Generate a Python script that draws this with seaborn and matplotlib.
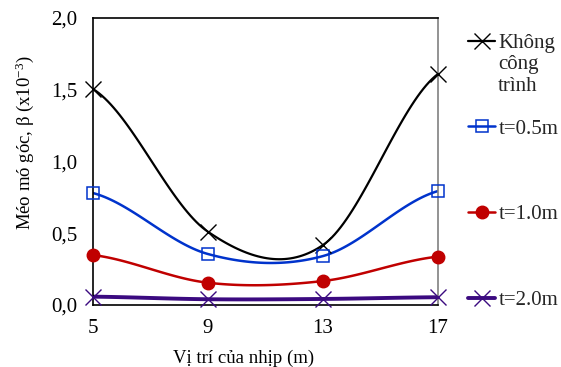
import numpy as np
import pandas as pd
import matplotlib
matplotlib.use("Agg")
import matplotlib.pyplot as plt
import seaborn as sns
from matplotlib.lines import Line2D
from matplotlib.ticker import FuncFormatter

# vị trí nhịp (m) và độ méo góc (x10^-3)
vi_tri = [5, 9, 13, 17]
khong_ct = [1.505, 0.51, 0.418, 1.61]
t_05 = [0.78, 0.355, 0.341, 0.794]
t_10 = [0.348, 0.155, 0.167, 0.337]
t_20 = [0.058, 0.040, 0.042, 0.054]

nhan = ["Không", "t=0.5m", "t=1.0m", "t=2.0m"]
mau = ["#000000", "#0033CC", "#C00000", "#3B0A80"]
marker = ["x", "s", "o", "x"]

sns.set_theme(style="white")
plt.rcParams["font.family"] = ["Liberation Serif", "DejaVu Serif"]
plt.rcParams["mathtext.fontset"] = "custom"
plt.rcParams["mathtext.rm"] = "Liberation Serif"
plt.rcParams["mathtext.it"] = "Liberation Serif:italic"


def duong_cong(x, y, n=40):
    # làm trơn kiểu Excel (Catmull-Rom), chỉ để vẽ đường
    x = np.asarray(x, float)
    y = np.asarray(y, float)
    yp = np.concatenate([[y[0]], y, [y[-1]]])
    xs, ys = [], []
    for i in range(len(x) - 1):
        m0 = (yp[i + 2] - yp[i]) / 2
        m1 = (yp[i + 3] - yp[i + 1]) / 2
        t = np.linspace(0, 1, n)
        h00 = 2 * t**3 - 3 * t**2 + 1
        h10 = t**3 - 2 * t**2 + t
        h01 = -2 * t**3 + 3 * t**2
        h11 = t**3 - t**2
        xs.append(x[i] + t * (x[i + 1] - x[i]))
        ys.append(h00 * y[i] + h10 * m0 + h01 * y[i + 1] + h11 * m1)
    return np.concatenate(xs), np.concatenate(ys)


fig = plt.figure(figsize=(5.61, 3.67), dpi=100)
ax = fig.add_axes([0.1658, 0.169, 0.615, 0.782])

chuoi = [khong_ct, t_05, t_10, t_20]
do_day = [1.6, 1.8, 1.8, 2.8]
handles = []
for ys, c, m, lw, lab in zip(chuoi, mau, marker, do_day, nhan):
    cx, cy = duong_cong(vi_tri, ys)
    sns.lineplot(x=cx, y=cy, ax=ax, color=c, lw=lw, sort=False)
    if m == "s":
        kw = dict(marker="s", ms=9, mfc="none", mec=c, mew=1.1)
    elif m == "o":
        kw = dict(marker="o", ms=9, mfc=c, mec=c)
    else:
        kw = dict(marker="x", ms=11, mec=c, mew=1.0)
    ax.plot(vi_tri, ys, ls="none", clip_on=False, zorder=5, **kw)
    handles.append(Line2D([], [], color=c, lw=lw, **kw))

ax.set_xlim(5, 17)
ax.set_ylim(0, 2.0)
ax.set_xticks(vi_tri)
ax.set_yticks([0, 0.5, 1.0, 1.5, 2.0])
ax.yaxis.set_major_formatter(FuncFormatter(lambda v, p: f"{v:.1f}".replace(".", ",")))
ax.tick_params(axis="both", direction="out", length=5, width=1, color="black",
               labelsize=15, labelcolor="black", pad=6)
ax.tick_params(axis="x", pad=5)
for s in ["left", "bottom", "top"]:
    ax.spines[s].set_color("black")
    ax.spines[s].set_linewidth(1.2)
ax.spines["right"].set_color("#808080")
ax.spines["right"].set_linewidth(1.2)

ax.set_xlabel("Vị trí của nhịp (m)", fontsize=13.5, color="black")
ax.set_ylabel("Méo mó góc, β (x10$^{-3}$)", fontsize=13.5, color="black")
ax.xaxis.set_label_coords(0.435, -0.155)
ax.yaxis.set_label_coords(-0.166, 0.564)

leg = ax.legend(handles, nhan, loc="upper left", bbox_to_anchor=(1.063, 0.975),
                frameon=False, fontsize=15, handlelength=1.3, handletextpad=0.15,
                labelspacing=3.17, borderaxespad=0)
# phần còn lại của nhãn "Không công trình"
fig.text(498 / 561, 1 - 55 / 367, "công\ntrình", ha="left", va="top",
         fontsize=15, linespacing=1.22)

fig.savefig("out.png", dpi=100)
